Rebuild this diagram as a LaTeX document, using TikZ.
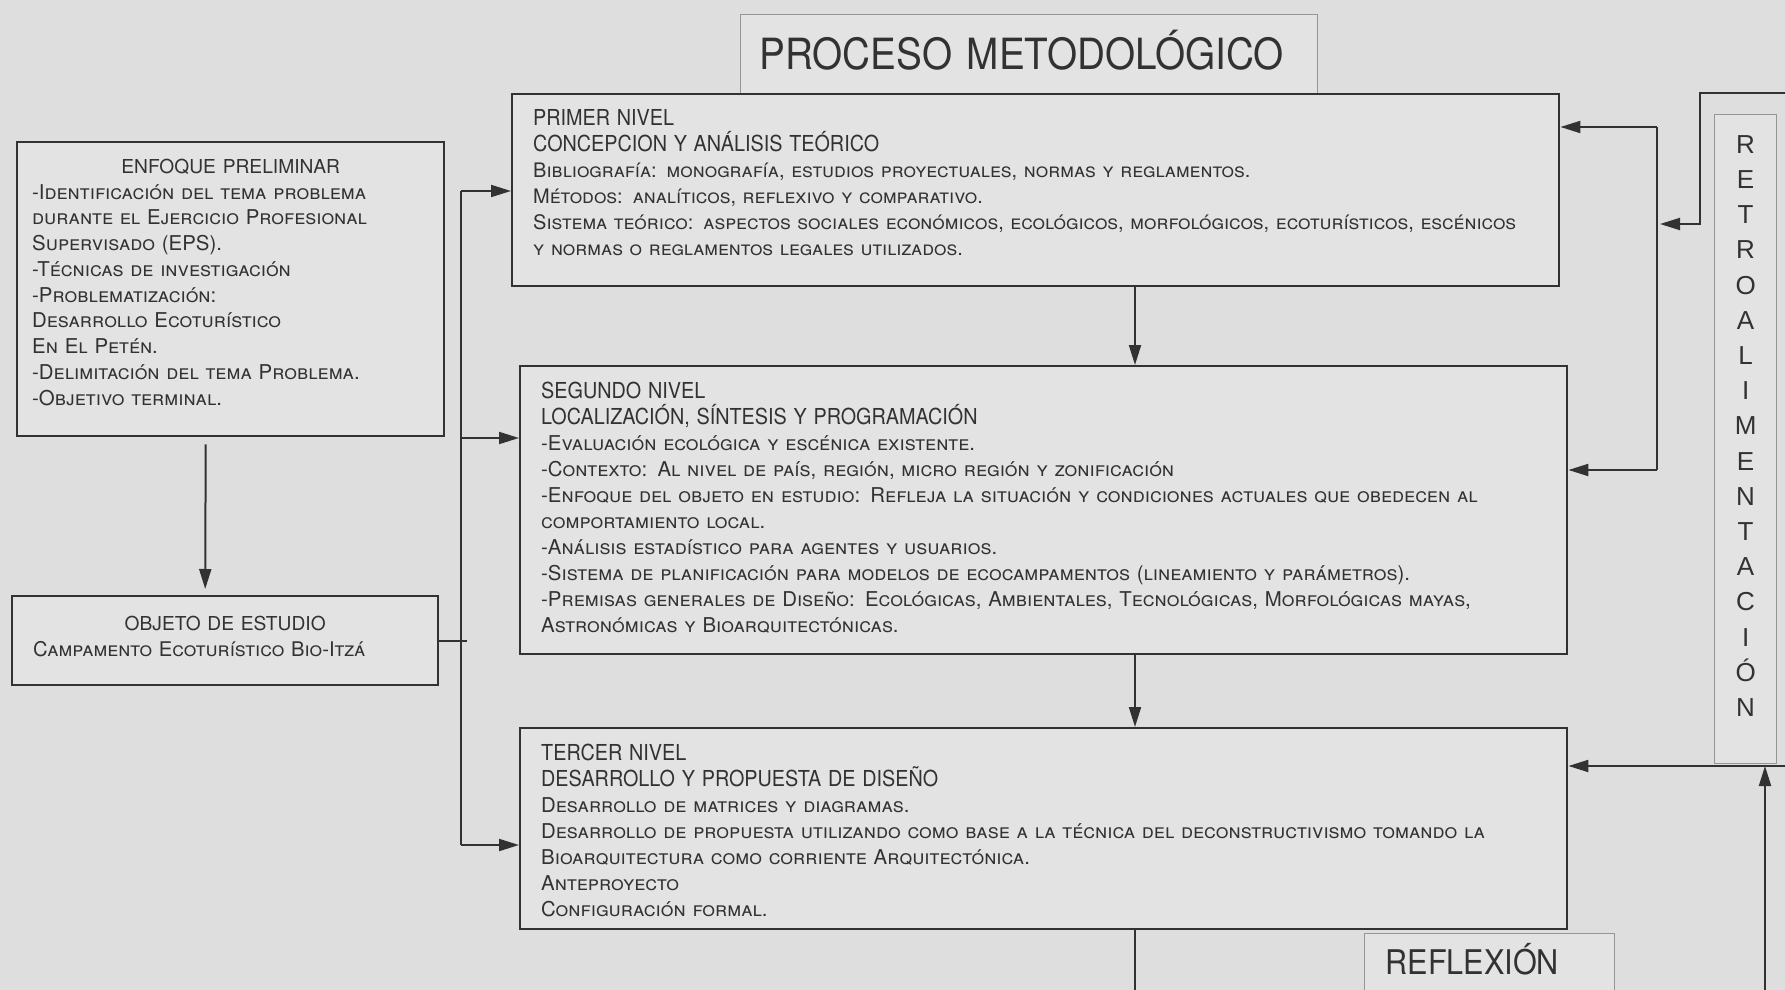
\documentclass[tikz,border=0pt]{standalone}
\usepackage{fontspec}
\setmainfont{TeX Gyre Heros}
\newfontfamily\narrowfont[FakeStretch=0.9]{TeX Gyre Heros}
\newfontfamily\widefont{Liberation Sans}
\usetikzlibrary{arrows.meta, positioning, calc}
\definecolor{paper}{RGB}{222,222,222}
\definecolor{boxfill}{RGB}{227,227,227}
\definecolor{ink}{RGB}{50,50,50}
\definecolor{thinline}{RGB}{150,150,150}
\tikzset{
    block/.style={rectangle, draw=ink, line width=1.2pt, fill=boxfill, anchor=north west, align=left, text=ink, inner xsep=10.5pt, font=\fontsize{10.2}{13}\selectfont\scshape},
    thinbox/.style={rectangle, draw=thinline, line width=0.6pt, fill=boxfill, anchor=north west, text=ink},
    arrow/.style={-{Triangle[length=10pt, width=6pt]}, draw=ink, line width=1pt},
    link/.style={draw=ink, line width=1pt},
}
\newcommand{\lvlhead}[1]{{\narrowfont\upshape\fontsize{11}{13}\selectfont #1}}
\newcommand{\boxhead}[1]{\centerline{\upshape\fontsize{9.6}{13}\selectfont #1}}

\begin{document}
\begin{tikzpicture}[x=0.5pt, y=-0.5pt]
    \fill[paper] (0,0) rectangle (1785,990);
    \useasboundingbox (0,0) rectangle (1785,990);

    % title and side boxes
    \node[thinbox, text width=269.5pt, inner xsep=9.5pt, align=left, minimum height=39.5pt, text height=15.5pt, text depth=0pt, font=\narrowfont\fontsize{21.5}{24}\selectfont] (title) at (740,14) {PROCESO METODOLÓGICO};

    \node[block, text width=198.5pt, inner xsep=7.5pt, inner ysep=8pt, text height=7.5pt, text depth=123.5pt, font=\fontsize{10.2}{12.9}\selectfont\scshape] (enfoque) at (16,141) {%
        \boxhead{ENFOQUE PRELIMINAR}
        -Identificación del tema problema\\
        durante el Ejercicio Profesional\\
        Supervisado (EPS).\\
        -Técnicas de investigación\\
        -Problematización:\\
        Desarrollo Ecoturístico\\
        En El Petén.\\
        -Delimitación del tema Problema.\\
        -Objetivo terminal.};

    \node[block, text width=192pt, inner ysep=9.5pt, text height=7.5pt, text depth=18pt, font=\fontsize{10.1}{13}\selectfont\scshape] (objeto) at (11,595) {%
        \boxhead{OBJETO DE ESTUDIO}
        Campamento Ecoturístico Bio-Itzá};

    % levels
    \node[block, text width=502.5pt, inner ysep=7.5pt, text height=8pt, text depth=73pt, font=\fontsize{10}{13}\selectfont\scshape] (primer) at (511,93) {%
        \lvlhead{PRIMER NIVEL}\\
        \lvlhead{CONCEPCION Y ANÁLISIS TEÓRICO}\\
        Bibliografía: monografía, estudios proyectuales, normas y reglamentos.\\
        Métodos: analíticos, reflexivo y comparativo.\\
        Sistema teórico: aspectos sociales económicos, ecológicos, morfológicos, ecoturísticos, escénicos\\
        y normas o reglamentos legales utilizados.};

    \node[block, text width=502.5pt, inner ysep=8pt, text height=8pt, text depth=120pt] (segundo) at (519,365) {%
        \lvlhead{SEGUNDO NIVEL}\\
        \lvlhead{LOCALIZACIÓN, SÍNTESIS Y PROGRAMACIÓN}\\
        -Evaluación ecológica y escénica existente.\\
        -Contexto: Al nivel de país, región, micro región y zonificación\\
        -Enfoque del objeto en estudio: Refleja la situación y condiciones actuales que obedecen al\\
        comportamiento local.\\
        -Análisis estadístico para agentes y usuarios.\\
        -Sistema de planificación para modelos de ecocampamentos (lineamiento y parámetros).\\
        -Premisas generales de Diseño: Ecológicas, Ambientales, Tecnológicas, Morfológicas mayas,\\
        Astronómicas y Bioarquitectónicas.};

    \node[block, text width=502.5pt, inner ysep=8pt, text height=8pt, text depth=76.5pt] (tercer) at (519,727) {%
        \lvlhead{TERCER NIVEL}\\
        \lvlhead{DESARROLLO Y PROPUESTA DE DISEÑO}\\
        Desarrollo de matrices y diagramas.\\
        Desarrollo de propuesta utilizando como base a la técnica del deconstructivismo tomando la\\
        Bioarquitectura como corriente Arquitectónica.\\
        Anteproyecto\\
        Configuración formal.};

    \node[thinbox, text width=31pt, inner xsep=0pt, inner ysep=10pt, align=center, text height=9.4pt, text depth=295pt, font=\widefont\fontsize{13}{17.6}\selectfont] (retro) at (1714,114) {R\\E\\T\\R\\O\\A\\L\\I\\M\\E\\N\\T\\A\\C\\I\\Ó\\N};

    \node[thinbox, text width=104pt, inner xsep=10.5pt, align=left, minimum height=28.5pt, text height=12.2pt, text depth=0pt, font=\narrowfont\fontsize{17}{20}\selectfont] (reflexion) at (1364,933) {REFLEXIÓN};

    % left bus
    \coordinate (busTop) at (461,191);
    \coordinate (busMid) at (461,438);
    \coordinate (busBot) at (461,845);
    \draw[link] (busTop) -- (busBot);
    \draw[arrow] (busTop) -- (busTop -| primer.west);
    \draw[arrow] (busMid) -- (busMid -| segundo.west);
    \draw[arrow] (busBot) -- (busBot -| tercer.west);
    \draw[link] (objeto.east) -- ([xshift=3pt]busTop |- objeto.east);
    \draw[arrow] ([shift={(-25,7)}]enfoque.south) -- ([shift={(-20,-6)}]objeto.north);

    % main axis
    \coordinate (axis) at (1135,0);
    \coordinate (outBot) at (1135,990);
    \draw[arrow] (primer.south -| axis) -- (segundo.north -| axis);
    \draw[arrow] (segundo.south -| axis) -- (tercer.north -| axis);
    \draw[link] (tercer.south -| axis) -- (outBot);

    % right loop
    \coordinate (loopA) at (1657,127);
    \coordinate (loopB) at (1657,470);
    \draw[link] (loopA) -- (loopB);
    \draw[arrow] (loopA) -- (loopA -| primer.east);
    \draw[arrow] (loopB) -- (loopB -| segundo.east);
    \coordinate (retroTop) at (1785,93);
    \coordinate (retroBend) at (1700,93);
    \coordinate (retroIn) at (1700,224);
    \coordinate (retroTip) at (1660,224);
    \draw[arrow] (retroTop) -- (retroBend) -- (retroIn) -- (retroTip);

    % feedback from below
    \coordinate (feedIn) at (1785,766);
    \coordinate (feedUp) at (1765,990);
    \coordinate (feedJoin) at (1765,766);
    \draw[arrow] (feedIn) -- (feedIn -| tercer.east);
    \draw[arrow] (feedUp) -- (feedJoin);
\end{tikzpicture}
\end{document}
